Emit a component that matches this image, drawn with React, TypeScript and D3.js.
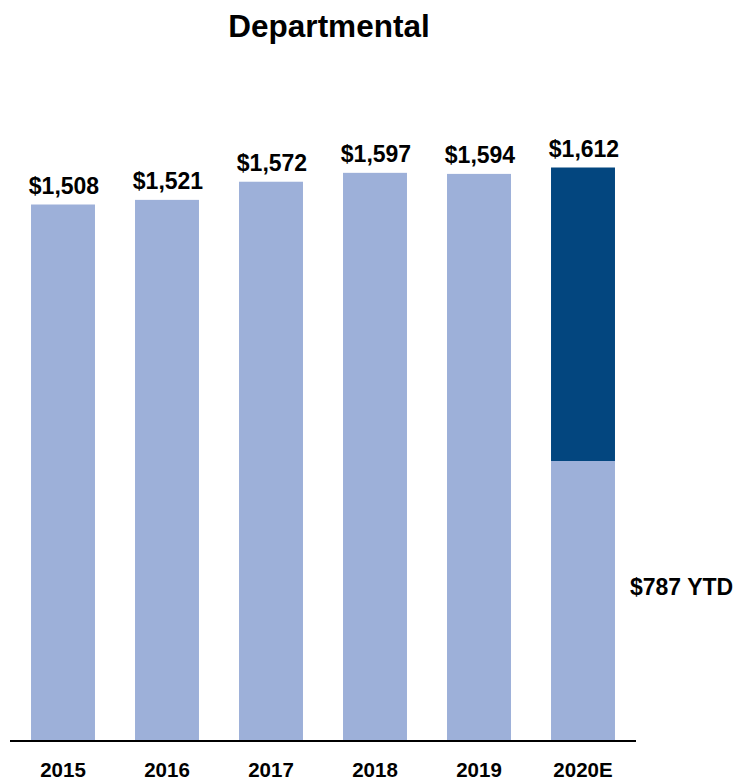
import React from "react";
import * as d3 from "d3";

const years = ["2015", "2016", "2017", "2018", "2019", "2020E"];
const totals = [1508, 1521, 1572, 1597, 1594, 1612];
const ytdValues = [null, null, null, null, null, 787];
const valueLabels = ["$1,508", "$1,521", "$1,572", "$1,597", "$1,594", "$1,612"];
const ytdLabel = "$787 YTD";
const title = "Departmental";

const W = 739;
const H = 782;
const LIGHT = "#9DB0D9";
const DARK = "#03467F";
const FONT = "'Liberation Sans', Arial, sans-serif";

export default function App() {
  const x = d3
    .scaleBand<string>()
    .domain(years)
    .range([11, 635])
    .paddingInner(0.385)
    .paddingOuter(0.1925);
  const y = d3.scaleLinear().domain([0, 1612]).range([741, 167.5]);
  const bw = x.bandwidth();

  return (
    <svg
      width={W}
      height={H}
      style={{ position: "absolute", left: 0, top: 0, background: "#fff" }}
    >
      <text
        x={329}
        y={37}
        textAnchor="middle"
        fontFamily={FONT}
        fontWeight="bold"
        fontSize={31.5}
        fill="#000"
      >
        {title}
      </text>
      {years.map((yr, i) => {
        const x0 = x(yr)!;
        const ytd = ytdValues[i];
        return (
          <g key={yr}>
            {ytd == null ? (
              <rect
                x={x0}
                y={y(totals[i])}
                width={bw}
                height={y(0) - y(totals[i])}
                fill={LIGHT}
              />
            ) : (
              <>
                <rect
                  x={x0}
                  y={y(totals[i])}
                  width={bw}
                  height={y(ytd) - y(totals[i])}
                  fill={DARK}
                />
                <rect
                  x={x0}
                  y={y(ytd)}
                  width={bw}
                  height={y(0) - y(ytd)}
                  fill={LIGHT}
                />
              </>
            )}
            <text
              x={x0 + bw / 2 + 1}
              y={y(totals[i]) - 11}
              textAnchor="middle"
              fontFamily={FONT}
              fontWeight="bold"
              fontSize={23}
              fill="#000"
            >
              {valueLabels[i]}
            </text>
            <text
              x={x0 + bw / 2}
              y={777}
              textAnchor="middle"
              fontFamily={FONT}
              fontWeight="bold"
              fontSize={20.5}
              fill="#000"
            >
              {yr}
            </text>
          </g>
        );
      })}
      <line x1={10} x2={636} y1={y(0)} y2={y(0)} stroke="#000" strokeWidth={2} />
      <text
        x={630}
        y={595}
        fontFamily={FONT}
        fontWeight="bold"
        fontSize={23}
        fill="#000"
      >
        {ytdLabel}
      </text>
    </svg>
  );
}
